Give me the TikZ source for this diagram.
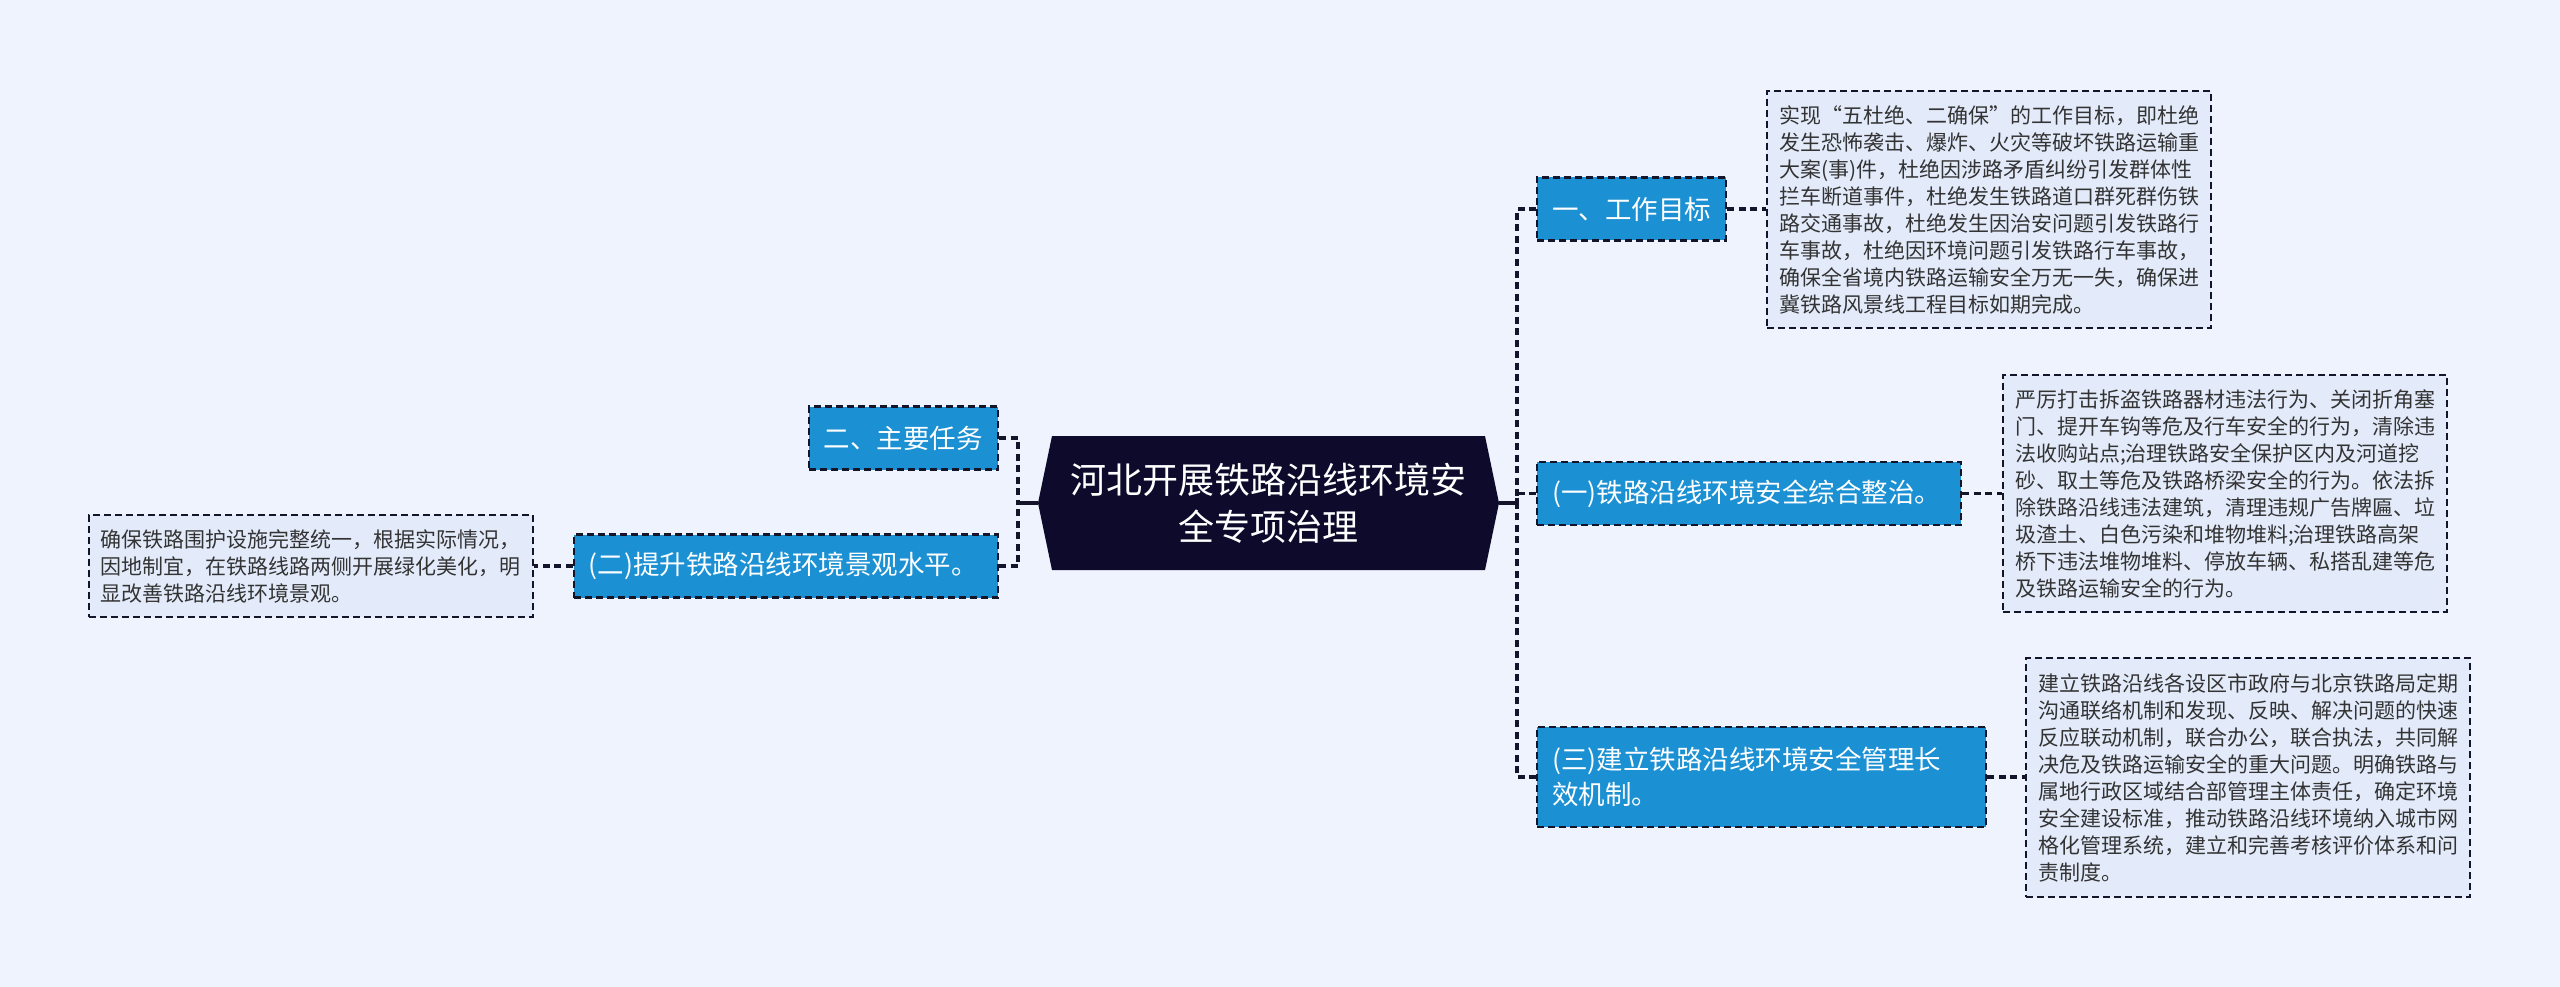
\documentclass[tikz,border=0pt]{standalone}
\usepackage{fontspec}
\newfontfamily\cjk{Noto Sans CJK SC}
\usetikzlibrary{calc}
\definecolor{bg}{HTML}{EEF3FD}
\definecolor{boxblue}{HTML}{1B90D3}
\definecolor{navy}{HTML}{0D0A2C}
\definecolor{edge}{HTML}{14142B}
\definecolor{detfill}{HTML}{E3EBFB}
\definecolor{dettext}{HTML}{333333}
\begin{document}
\begin{tikzpicture}[x=1pt,y=-1pt,
  topicbox/.style={rectangle, fill=boxblue, draw=edge, line width=2.4pt, dash pattern=on 7pt off 4pt, text=white, font=\cjk\fontsize{26.5pt}{35pt}\selectfont, inner xsep=15pt, inner ysep=0pt, minimum height=63pt},
  notebox/.style={rectangle, fill=detfill, draw=edge, line width=2.2pt, dash pattern=on 7pt off 4pt, text=dettext, font=\cjk\fontsize{21pt}{27pt}\selectfont, text width=420pt, align=left, inner xsep=12pt, inner ysep=0pt},
  linkline/.style={draw=edge, line width=3.2pt, dash pattern=on 7pt off 4.5pt},
  rootlink/.style={draw=edge, line width=3.5pt},
]
\fill[bg] (0,0) rectangle (2560,987);
\useasboundingbox (0,0) rectangle (2560,987);

% root
\coordinate (cc) at (1268.5,503);
\fill[navy] ($(cc)+(-230.5,0)$) -- ($(cc)+(-216.5,-67)$) -- ($(cc)+(216.5,-67)$) -- ($(cc)+(230.5,0)$) -- ($(cc)+(216.5,67)$) -- ($(cc)+(-216.5,67)$) -- cycle;
\node[font=\cjk\fontsize{36pt}{47pt}\selectfont, text=white, align=center, minimum width=461pt, minimum height=134pt, inner sep=0pt] (root) at (cc) {河北开展铁路沿线环境安\\全专项治理};

% right topics
\node[topicbox, anchor=west] (t1) at (1536,209) {一、工作目标};
\node[topicbox, anchor=west, text width=394pt, align=left] (t2) at (1536,493.5) {(一)铁路沿线环境安全综合整治。};
\node[topicbox, anchor=west, text width=419pt, align=left, minimum height=100pt] (t3) at (1536,777) {(三)建立铁路沿线环境安全管理长\\效机制。};

% left topics
\node[topicbox, anchor=east] (l1) at (999,438) {二、主要任务};
\node[topicbox, anchor=east, text width=394pt, align=left] (l2) at (999,566) {(二)提升铁路沿线环境景观水平。};

% notes
\node[notebox, anchor=west, minimum height=237pt] (n1) at (1766,209.5) {实现“五杜绝、二确保”的工作目标，即杜绝\\发生恐怖袭击、爆炸、火灾等破坏铁路运输重\\大案(事)件，杜绝因涉路矛盾纠纷引发群体性\\拦车断道事件，杜绝发生铁路道口群死群伤铁\\路交通事故，杜绝发生因治安问题引发铁路行\\车事故，杜绝因环境问题引发铁路行车事故，\\确保全省境内铁路运输安全万无一失，确保进\\冀铁路风景线工程目标如期完成。};
\node[notebox, anchor=west, minimum height=237pt] (n2) at (2002,493.5) {严厉打击拆盗铁路器材违法行为、关闭折角塞\\门、提开车钩等危及行车安全的行为，清除违\\法收购站点;治理铁路安全保护区内及河道挖\\砂、取土等危及铁路桥梁安全的行为。依法拆\\除铁路沿线违法建筑，清理违规广告牌匾、垃\\圾渣土、白色污染和堆物堆料;治理铁路高架\\桥下违法堆物堆料、停放车辆、私搭乱建等危\\及铁路运输安全的行为。};
\node[notebox, anchor=west, minimum height=239pt] (n3) at (2025,777.5) {建立铁路沿线各设区市政府与北京铁路局定期\\沟通联络机制和发现、反映、解决问题的快速\\反应联动机制，联合办公，联合执法，共同解\\决危及铁路运输安全的重大问题。明确铁路与\\属地行政区域结合部管理主体责任，确定环境\\安全建设标准，推动铁路沿线环境纳入城市网\\格化管理系统，建立和完善考核评价体系和问\\责制度。};
\node[notebox, anchor=east, minimum height=102pt] (n0) at (534,566) {确保铁路围护设施完整统一，根据实际情况，\\因地制宜，在铁路线路两侧开展绿化美化，明\\显改善铁路沿线环境景观。};

% connectors
\coordinate (rj) at (1517,503);
\coordinate (lj) at (1018,503);
\draw[rootlink] (root.east) -- (rj);
\draw[rootlink] (root.west) -- (lj);
\draw[linkline] (t1.west) -| (rj);
\draw[linkline] (t2.west) -| (rj);
\draw[linkline] (t3.west) -| (rj);
\draw[linkline] (l1.east) -| (lj);
\draw[linkline] (l2.east) -| (lj);
\draw[linkline] (t1.east) -- (t1.east -| n1.west);
\draw[linkline] (t2.east) -- (t2.east -| n2.west);
\draw[linkline] (t3.east) -- (t3.east -| n3.west);
\draw[linkline] (l2.west) -- (l2.west -| n0.east);
\end{tikzpicture}
\end{document}
